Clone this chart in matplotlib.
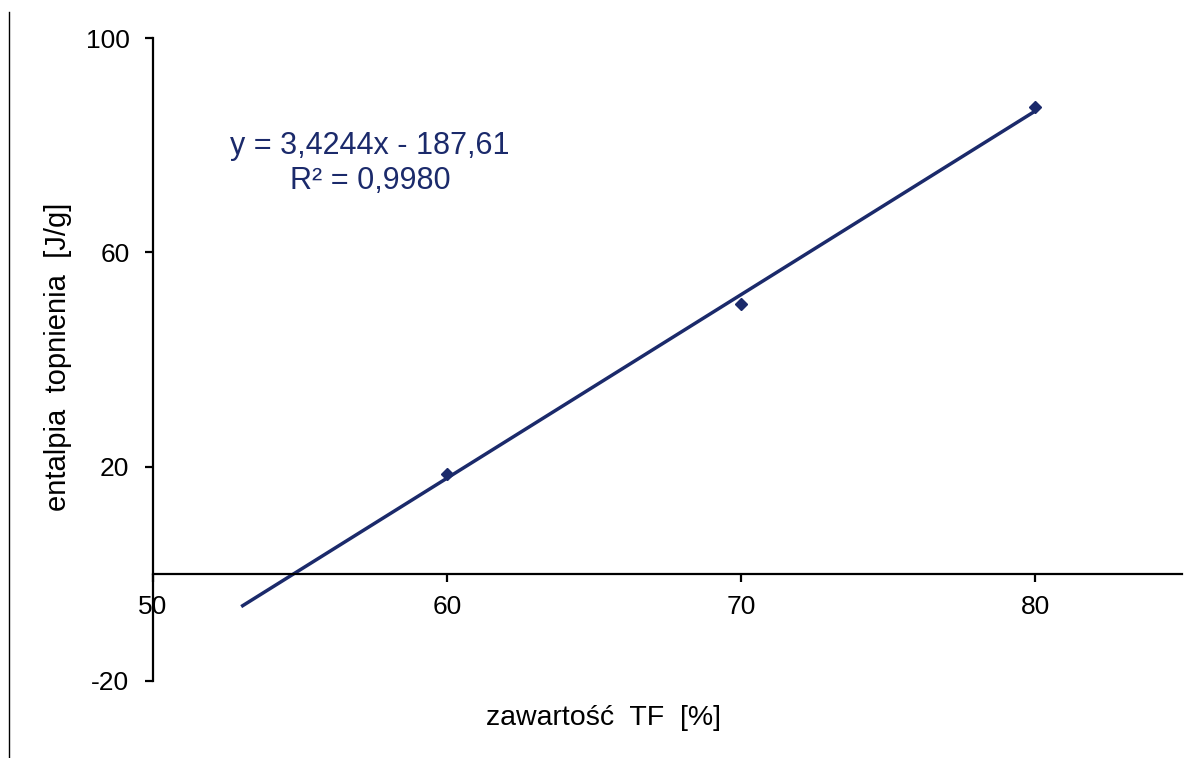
import numpy as np
import matplotlib.pyplot as plt
from matplotlib.lines import Line2D

plt.rcParams['font.family'] = ['Liberation Sans', 'DejaVu Sans']
plt.rcParams['axes.unicode_minus'] = False

# data
tf_content = [60, 70, 80]
enthalpy = [18.7, 50.3, 87.1]

# trendline as printed on the chart
slope = 3.4244
intercept = -187.61
trend_x = [53, 80]

x_ticks = [50, 60, 70, 80]
y_ticks = [-20, 20, 60, 100]

navy = '#1b2a6b'

fig = plt.figure(figsize=(12.04, 7.58), dpi=100)
ax = fig.add_axes([153 / 1204, 1 - 681 / 758, (1182 - 153) / 1204, (681 - 38) / 758])

tx = np.array(trend_x)
ax.plot(tx, np.polyval([slope, intercept], tx), color=navy, lw=2.5, solid_capstyle='butt')
ax.plot(tf_content, enthalpy, linestyle='none', marker='D', ms=6.5, color=navy)

ax.set_xlim(50, 85)
ax.set_ylim(-20, 100)
ax.set_xticks(x_ticks)
ax.set_yticks(y_ticks)

# axes cross at y = 0, like in Excel
ax.spines['bottom'].set_position(('data', 0))
ax.spines['top'].set_visible(False)
ax.spines['right'].set_visible(False)
for s in ('left', 'bottom'):
    ax.spines[s].set_linewidth(1.6)
ax.tick_params(direction='out', length=6, width=1.6, labelsize=19)
ax.tick_params(axis='y', pad=11)
ax.tick_params(axis='x', pad=9)

ax.text(57.38, 76.6, 'y = 3,4244x - 187,61\nR² = 0,9980', color=navy,
        fontsize=22, ha='center', va='center', linespacing=1.2)

fig.text(603 / 1204, 1 - 718 / 758, 'zawartość  TF  [%]', fontsize=20.5, ha='center', va='center')
fig.text(58 / 1204, 1 - 357 / 758, 'entalpia  topnienia  [J/g]', fontsize=21,
         rotation=90, ha='center', va='center')

# thin frame line on the left edge
fig.add_artist(Line2D([8.5 / 1204, 8.5 / 1204], [0, 1 - 12 / 758], color='black', lw=1.0))

fig.savefig('out.png', dpi=100)
